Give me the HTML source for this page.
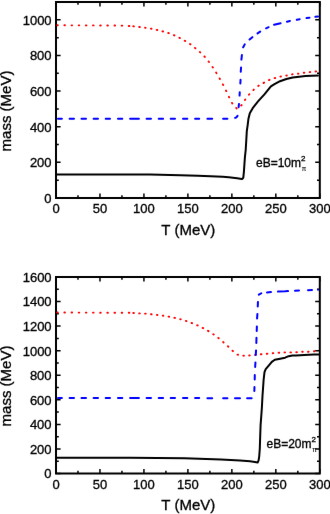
<!DOCTYPE html><html><head><meta charset="utf-8"><style>html,body{margin:0;padding:0;background:#fff;overflow:hidden;}svg{display:block;}text{font-family:"Liberation Sans",sans-serif;fill:#000;stroke:#000;stroke-width:0.32px;}</style></head><body>
<svg width="330" height="514" viewBox="0 0 330 514">
<defs><filter id="bl" x="0" y="0" width="330" height="514" filterUnits="userSpaceOnUse" color-interpolation-filters="sRGB"><feConvolveMatrix order="3" kernelMatrix="0.00163 0.03713 0.00163 0.03713 0.84497 0.03713 0.00163 0.03713 0.00163" edgeMode="duplicate"/></filter></defs>
<g filter="url(#bl)">
<rect width="330" height="514" fill="#fff"/>
<path d="M56.00 198.00V193.40M56.00 2.00V6.60M77.98 198.00V195.20M77.98 2.00V4.80M99.97 198.00V193.40M99.97 2.00V6.60M121.95 198.00V195.20M121.95 2.00V4.80M143.93 198.00V193.40M143.93 2.00V6.60M165.92 198.00V195.20M165.92 2.00V4.80M187.90 198.00V193.40M187.90 2.00V6.60M209.88 198.00V195.20M209.88 2.00V4.80M231.87 198.00V193.40M231.87 2.00V6.60M253.85 198.00V195.20M253.85 2.00V4.80M275.83 198.00V193.40M275.83 2.00V6.60M297.82 198.00V195.20M297.82 2.00V4.80M319.80 198.00V193.40M319.80 2.00V6.60M56.00 198.00H60.60M319.80 198.00H315.20M56.00 180.18H58.80M319.80 180.18H317.00M56.00 162.36H60.60M319.80 162.36H315.20M56.00 144.55H58.80M319.80 144.55H317.00M56.00 126.73H60.60M319.80 126.73H315.20M56.00 108.91H58.80M319.80 108.91H317.00M56.00 91.09H60.60M319.80 91.09H315.20M56.00 73.27H58.80M319.80 73.27H317.00M56.00 55.45H60.60M319.80 55.45H315.20M56.00 37.64H58.80M319.80 37.64H317.00M56.00 19.82H60.60M319.80 19.82H315.20M56.00 2.00H58.80M319.80 2.00H317.00" stroke="#000" stroke-width="1.5" fill="none"/>
<rect x="56.00" y="2.00" width="263.80" height="196.00" fill="none" stroke="#000" stroke-width="2"/>
<text x="51.6" y="202.90" font-size="13" text-anchor="end">0</text>
<text x="51.6" y="167.26" font-size="13" text-anchor="end">200</text>
<text x="51.6" y="131.63" font-size="13" text-anchor="end">400</text>
<text x="51.6" y="95.99" font-size="13" text-anchor="end">600</text>
<text x="51.6" y="60.35" font-size="13" text-anchor="end">800</text>
<text x="51.6" y="24.72" font-size="13" text-anchor="end">1000</text>
<text x="56.00" y="213.20" font-size="13" text-anchor="middle">0</text>
<text x="99.97" y="213.20" font-size="13" text-anchor="middle">50</text>
<text x="143.93" y="213.20" font-size="13" text-anchor="middle">100</text>
<text x="187.90" y="213.20" font-size="13" text-anchor="middle">150</text>
<text x="231.87" y="213.20" font-size="13" text-anchor="middle">200</text>
<text x="275.83" y="213.20" font-size="13" text-anchor="middle">250</text>
<text x="319.80" y="213.20" font-size="13" text-anchor="middle">300</text>
<path d="M57.20 25.30l0.60 0.00M64.36 25.32l0.60 0.00M71.52 25.35l0.60 0.00M78.68 25.37l0.60 0.00M85.84 25.39l0.60 0.00M93.00 25.41l0.60 0.00M100.16 25.44l0.60 0.00M107.32 25.46l0.60 0.00M114.48 25.48l0.60 0.00M121.64 25.60l0.60 0.03M128.78 26.01l0.60 0.04M133.30 26.30l0.60 0.07M139.18 26.96l0.60 0.07M145.04 27.77l0.59 0.08M150.89 28.66l0.59 0.09M156.71 29.85l0.58 0.15M162.49 31.34l0.58 0.17M168.23 33.01l0.56 0.21M173.87 35.13l0.54 0.26M179.36 37.77l0.53 0.29M184.73 40.75l0.52 0.30M189.99 44.01l0.48 0.36M194.95 47.90l0.46 0.39M199.80 52.01l0.46 0.39M204.41 56.50l0.41 0.44M208.62 61.55l0.37 0.47M212.53 66.93l0.34 0.49M216.15 72.62l0.31 0.51M219.63 78.44l0.31 0.52M222.93 84.40l0.29 0.53M226.00 90.55l0.26 0.54M228.94 96.80l0.25 0.54M232.04 102.92l0.28 0.53M236.18 107.99l0.40 0.45M241.09 105.48l0.48 -0.36M244.94 100.04l0.33 -0.50M248.93 94.75l0.36 -0.48M253.37 90.04l0.42 -0.43M258.25 86.00l0.47 -0.38M263.56 82.89l0.51 -0.31M268.96 80.06l0.56 -0.21M274.64 78.14l0.58 -0.17M280.39 76.58l0.59 -0.09M286.24 75.62l0.58 -0.14M292.04 74.33l0.60 -0.06M297.92 73.70l0.59 -0.10M303.76 72.75l0.60 -0.06M309.64 72.15l0.60 -0.07M315.52 71.47l0.60 -0.07" fill="none" stroke="#f00" stroke-width="1.9" stroke-linecap="round"/>
<path d="M58.00 118.70L61.90 118.70M69.60 118.71L74.00 118.71M81.50 118.71L86.00 118.72M93.60 118.72L98.00 118.72M105.70 118.73L110.00 118.73M118.00 118.73L122.30 118.74M130.10 118.74L138.90 118.75M146.60 118.75L151.00 118.75M158.70 118.76L163.10 118.76M170.70 118.76L175.00 118.77M183.00 118.77L187.30 118.77M195.10 118.78L199.20 118.78M207.40 118.79L212.20 118.79M223.10 118.79L227.40 118.80M235.15 117.96L236.40 117.40L237.52 115.82M238.61 107.21L238.99 103.89M239.56 95.60L239.74 92.20M240.35 83.50L240.55 79.70M240.76 71.70L241.04 67.50M241.41 59.61L241.89 54.99M243.17 47.32L244.73 44.38M249.56 39.55L252.34 37.15M257.54 33.35L260.16 31.65M266.11 28.30L268.59 27.20M274.07 24.77L280.63 23.23M286.97 21.74L289.93 20.96M296.79 19.74L299.71 19.26M306.59 18.06L309.51 17.64M315.39 16.79L318.01 16.51" fill="none" stroke="#00f" stroke-width="2" stroke-linecap="round" stroke-linejoin="round"/>
<polyline points="57.0,174.5 150.0,174.5 180.3,175.2 198.0,175.8 210.6,176.2 222.7,176.8 228.8,177.2 237.2,178.2 241.8,178.9 242.3,179.0 243.3,177.6 243.9,171.8 244.4,164.5 244.9,157.3 245.7,150.0 246.3,140.0 246.8,131.1 247.6,125.6 248.4,119.1 249.8,113.3 252.7,108.2 257.8,101.6 264.4,94.4 270.9,86.4 274.5,84.2 280.0,81.2 286.4,79.0 292.7,77.6 299.1,76.7 305.5,76.1 311.8,75.7 318.8,75.5" fill="none" stroke="#000" stroke-width="2" stroke-linejoin="round"/>
<path d="M56.00 473.50V468.90M56.00 277.00V281.60M77.98 473.50V470.70M77.98 277.00V279.80M99.97 473.50V468.90M99.97 277.00V281.60M121.95 473.50V470.70M121.95 277.00V279.80M143.93 473.50V468.90M143.93 277.00V281.60M165.92 473.50V470.70M165.92 277.00V279.80M187.90 473.50V468.90M187.90 277.00V281.60M209.88 473.50V470.70M209.88 277.00V279.80M231.87 473.50V468.90M231.87 277.00V281.60M253.85 473.50V470.70M253.85 277.00V279.80M275.83 473.50V468.90M275.83 277.00V281.60M297.82 473.50V470.70M297.82 277.00V279.80M319.80 473.50V468.90M319.80 277.00V281.60M56.00 473.50H60.60M319.80 473.50H315.20M56.00 461.22H58.80M319.80 461.22H317.00M56.00 448.94H60.60M319.80 448.94H315.20M56.00 436.66H58.80M319.80 436.66H317.00M56.00 424.38H60.60M319.80 424.38H315.20M56.00 412.09H58.80M319.80 412.09H317.00M56.00 399.81H60.60M319.80 399.81H315.20M56.00 387.53H58.80M319.80 387.53H317.00M56.00 375.25H60.60M319.80 375.25H315.20M56.00 362.97H58.80M319.80 362.97H317.00M56.00 350.69H60.60M319.80 350.69H315.20M56.00 338.41H58.80M319.80 338.41H317.00M56.00 326.12H60.60M319.80 326.12H315.20M56.00 313.84H58.80M319.80 313.84H317.00M56.00 301.56H60.60M319.80 301.56H315.20M56.00 289.28H58.80M319.80 289.28H317.00M56.00 277.00H60.60M319.80 277.00H315.20" stroke="#000" stroke-width="1.5" fill="none"/>
<rect x="56.00" y="277.00" width="263.80" height="196.50" fill="none" stroke="#000" stroke-width="2"/>
<text x="51.6" y="478.40" font-size="13" text-anchor="end">0</text>
<text x="51.6" y="453.84" font-size="13" text-anchor="end">200</text>
<text x="51.6" y="429.27" font-size="13" text-anchor="end">400</text>
<text x="51.6" y="404.71" font-size="13" text-anchor="end">600</text>
<text x="51.6" y="380.15" font-size="13" text-anchor="end">800</text>
<text x="51.6" y="355.59" font-size="13" text-anchor="end">1000</text>
<text x="51.6" y="331.02" font-size="13" text-anchor="end">1200</text>
<text x="51.6" y="306.46" font-size="13" text-anchor="end">1400</text>
<text x="51.6" y="281.90" font-size="13" text-anchor="end">1600</text>
<text x="56.00" y="488.70" font-size="13" text-anchor="middle">0</text>
<text x="99.97" y="488.70" font-size="13" text-anchor="middle">50</text>
<text x="143.93" y="488.70" font-size="13" text-anchor="middle">100</text>
<text x="187.90" y="488.70" font-size="13" text-anchor="middle">150</text>
<text x="231.87" y="488.70" font-size="13" text-anchor="middle">200</text>
<text x="275.83" y="488.70" font-size="13" text-anchor="middle">250</text>
<text x="319.80" y="488.70" font-size="13" text-anchor="middle">300</text>
<path d="M57.20 312.50l0.60 0.00M64.36 312.53l0.60 0.00M71.52 312.56l0.60 0.00M78.68 312.59l0.60 0.00M85.84 312.62l0.60 0.00M93.00 312.65l0.60 0.00M100.16 312.68l0.60 0.00M107.32 312.71l0.60 0.00M114.48 312.74l0.60 0.00M121.64 312.77l0.60 0.00M128.80 312.80l0.60 0.00M133.30 313.00l0.60 0.04M139.19 313.35l0.60 0.04M145.09 313.63l0.60 0.03M150.97 314.22l0.60 0.07M156.84 314.90l0.60 0.07M162.71 315.68l0.59 0.09M168.55 316.66l0.59 0.11M174.37 317.81l0.59 0.13M180.17 319.15l0.58 0.15M185.89 320.92l0.56 0.21M191.53 323.01l0.56 0.21M197.14 325.26l0.55 0.23M202.64 327.87l0.53 0.28M208.01 330.84l0.52 0.30M213.23 334.20l0.50 0.34M218.28 337.94l0.48 0.36M223.14 342.03l0.45 0.39M227.90 346.27l0.45 0.40M232.53 350.74l0.43 0.42M237.46 354.68l0.59 0.10M243.30 355.65l0.59 0.10M249.17 355.46l0.60 -0.06M255.05 354.85l0.60 -0.06M260.93 354.29l0.60 -0.06M266.82 353.80l0.60 -0.06M272.70 353.20l0.60 -0.04M278.59 352.80l0.60 -0.04M284.48 352.40l0.60 0.00M290.38 352.40l0.60 -0.02M296.28 352.21l0.60 -0.04M302.17 351.80l0.60 0.00M308.07 351.81l0.60 -0.06M313.95 351.21l0.60 -0.02" fill="none" stroke="#f00" stroke-width="1.9" stroke-linecap="round"/>
<path d="M58.00 397.90L61.90 397.91M69.60 397.92L74.00 397.93M81.50 397.94L86.00 397.94M93.60 397.96L98.00 397.96M105.70 397.97L110.00 397.98M118.00 397.99L122.30 398.00M130.10 398.01L138.90 398.03M146.60 398.04L151.00 398.04M158.70 398.06L163.10 398.06M170.70 398.07L175.00 398.08M183.00 398.09L187.30 398.10M195.10 398.11L199.20 398.12M207.40 398.13L212.20 398.14M223.10 398.16L227.40 398.16M235.00 398.17L240.00 398.18M247.10 398.19L251.66 398.20M254.33 391.00L254.47 387.00M254.72 379.50L254.78 375.00M255.16 367.00L255.44 362.40M255.76 355.00L256.04 350.40M256.33 342.90L256.47 337.80M256.73 330.90L256.87 326.40M257.08 318.40L257.42 313.90M257.75 306.40L257.95 301.90M258.87 294.70L261.29 293.23M267.01 292.40L271.00 291.98M278.00 291.60L285.20 291.30L288.00 291.10M294.99 290.73L299.00 290.57M307.99 290.14L312.00 289.94M318.00 289.73L318.00 289.73" fill="none" stroke="#00f" stroke-width="2" stroke-linecap="round" stroke-linejoin="round"/>
<polyline points="57.0,457.7 130.0,457.7 184.5,458.2 221.0,459.6 240.0,460.6 250.0,461.3 254.9,462.0 257.6,462.6 258.6,460.4 259.2,456.7 259.8,448.5 260.2,436.3 260.6,424.8 261.2,417.0 261.9,407.3 262.5,395.7 263.2,386.0 263.6,380.0 264.5,372.2 265.7,369.2 268.7,365.6 271.8,361.9 274.8,359.8 280.2,358.7 285.1,357.7 288.7,356.2 292.4,355.6 296.0,355.4 304.2,354.9 314.1,354.6 319.0,354.4" fill="none" stroke="#000" stroke-width="2" stroke-linejoin="round"/>
<text x="188.3" y="234.70" font-size="15" text-anchor="middle">T (MeV)</text>
<text transform="translate(11,111.00) rotate(-90)" font-size="15" text-anchor="middle">mass (MeV)</text>
<text x="188.3" y="510.11" font-size="15" text-anchor="middle">T (MeV)</text>
<text transform="translate(11,386.00) rotate(-90)" font-size="15" text-anchor="middle">mass (MeV)</text>
<text x="256.00" y="167.00" font-size="12">eB=10m</text>
<text x="301.10" y="161.20" font-size="8">2</text>
<text x="301.70" y="170.70" font-size="6.5" style="stroke-width:0.1px">&#960;</text>
<text x="266.50" y="448.00" font-size="12">eB=20m</text>
<text x="311.60" y="442.20" font-size="8">2</text>
<text x="312.20" y="451.70" font-size="6.5" style="stroke-width:0.1px">&#960;</text>
</g>
</svg></body></html>
